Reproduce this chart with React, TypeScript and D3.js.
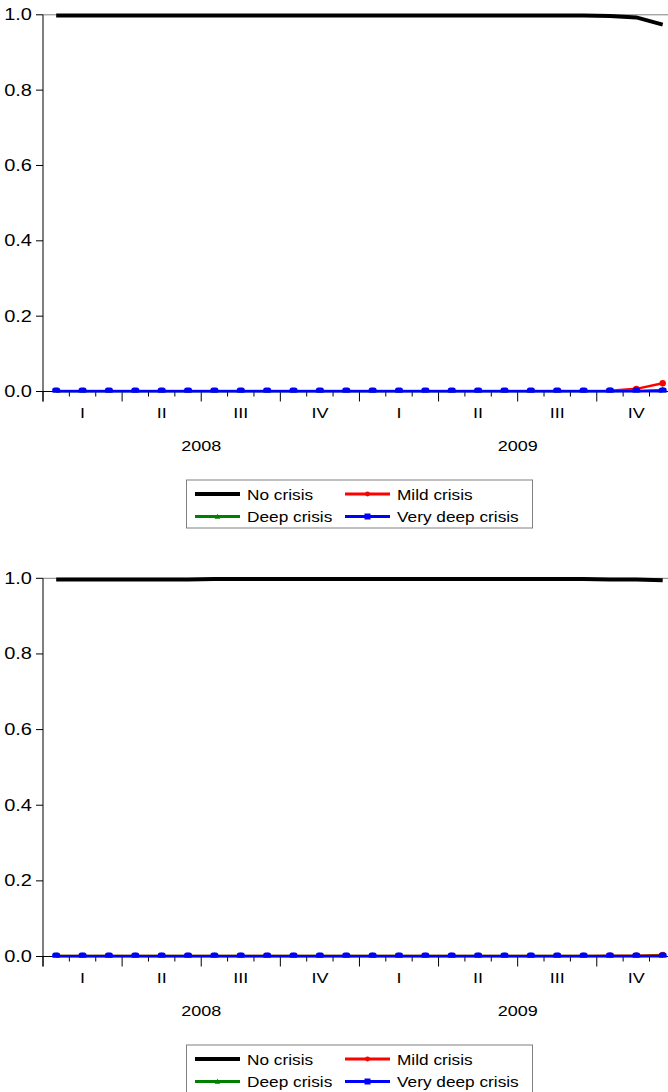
import React from "react";
import * as d3 from "d3";

const months = ["2008M01","2008M02","2008M03","2008M04","2008M05","2008M06","2008M07","2008M08","2008M09","2008M10","2008M11","2008M12","2009M01","2009M02","2009M03","2009M04","2009M05","2009M06","2009M07","2009M08","2009M09","2009M10","2009M11","2009M12"];
const quarterLabels = ["I","II","III","IV","I","II","III","IV"];
const yearLabels = ["2008","2009"];
const yTicks = [0, 0.2, 0.4, 0.6, 0.8, 1.0];
const seriesNames = ["No crisis","Mild crisis","Deep crisis","Very deep crisis"];

// Panel 1
const noCrisis1 = [0.998,0.998,0.998,0.998,0.998,0.998,0.998,0.998,0.998,0.998,0.998,0.998,0.998,0.998,0.998,0.998,0.998,0.998,0.998,0.998,0.998,0.997,0.993,0.974];
const mild1 = [0.001,0.001,0.001,0.001,0.001,0.001,0.001,0.001,0.001,0.001,0.001,0.001,0.001,0.001,0.001,0.001,0.001,0.001,0.001,0.001,0.001,0.002,0.007,0.022];
const deep1 = [0,0,0,0,0,0,0,0,0,0,0,0,0,0,0,0,0,0,0,0,0,0,0.001,0.004];
const veryDeep1 = [0,0,0,0,0,0,0,0,0,0,0,0,0,0,0,0,0,0,0,0,0,0,0,0];

// Panel 2
const noCrisis2 = [0.997,0.997,0.997,0.997,0.997,0.997,0.998,0.998,0.998,0.998,0.998,0.998,0.998,0.998,0.998,0.998,0.998,0.998,0.998,0.998,0.998,0.997,0.997,0.995];
const mild2 = [0.001,0.001,0.001,0.001,0.001,0.001,0.001,0.001,0.001,0.001,0.001,0.001,0.001,0.001,0.001,0.001,0.001,0.001,0.001,0.001,0.001,0.002,0.002,0.004];
const deep2 = [0.001,0.001,0.001,0.001,0.001,0.001,0.001,0.001,0.001,0.001,0.001,0.001,0.001,0.001,0.001,0.001,0.001,0.001,0.001,0.001,0.001,0.001,0.001,0.002];
const veryDeep2 = [0,0,0,0,0,0,0,0,0,0,0,0,0,0,0,0,0,0,0,0,0,0,0,0];

const colors = ["#000000", "#ff0000", "#008000", "#0000ff"];
const widths = [4, 2.5, 2.5, 3];
const markers = ["none", "circle", "triangle", "square"];

const FONT = "'Liberation Sans', Arial, sans-serif";

function Txt({ x, y, anchor = "start", size = 15, sx = 1.15, children }: any) {
  return (
    <text
      transform={`translate(${x},${y}) scale(${sx},1)`}
      textAnchor={anchor}
      fontFamily={FONT}
      fontSize={size}
      fill="#000"
    >
      {children}
    </text>
  );
}

function Marker({ type, x, y, color, size = 1, round = 2.5 }: any) {
  if (type === "circle") return <circle cx={x} cy={y} r={3.2 * size} fill={color} />;
  if (type === "square") return <rect x={x - 4 * size} y={y - 4 * size} width={8 * size} height={8 * size} rx={round * size} fill={color} />;
  if (type === "triangle") {
    const s = 3.8 * size;
    return <path d={`M${x},${y - s}L${x + s},${y + s * 0.8}L${x - s},${y + s * 0.8}Z`} fill={color} />;
  }
  return null;
}

function Panel({ top, zero, series, id }: any) {
  const x = d3.scaleLinear().domain([0, 24]).range([43, 43 + 24 * 26.37]);
  const y = d3.scaleLinear().domain([0, 1]).range([zero, top]);
  const line = d3.line<number>().x((_, i) => x(i + 0.5)).y((d) => y(d)).curve(d3.curveLinear);
  const axisY = y(0);
  const ticks = d3.range(0, 25);
  return (
    <g>
      <defs>
        <clipPath id={id}>
          <rect x={0} y={0} width={700} height={axisY + 1} />
        </clipPath>
      </defs>
      <line x1={43} x2={700} y1={y(1)} y2={y(1)} stroke="#808080" strokeWidth={1} />
      <line x1={43} x2={43} y1={y(1)} y2={axisY + 10} stroke="#000" strokeWidth={1} />
      {yTicks.map((t) => (
        <g key={t}>
          <line x1={36} x2={43} y1={y(t)} y2={y(t)} stroke="#000" strokeWidth={1} />
          <Txt x={32} y={y(t) + 5.5} anchor="end" size={16} sx={1.25}>{t.toFixed(1)}</Txt>
        </g>
      ))}
      <line x1={43} x2={700} y1={axisY} y2={axisY} stroke="#000" strokeWidth={1} />
      {ticks.map((m) => (
        <line key={m} x1={x(m)} x2={x(m)} y1={axisY} y2={axisY + (m % 3 === 0 ? 10 : 5)} stroke="#000" strokeWidth={1} />
      ))}
      {quarterLabels.map((q, i) => (
        <Txt key={i} x={x(i * 3 + 1.5)} y={axisY + 26.5} anchor="middle" size={15} sx={1.2}>{q}</Txt>
      ))}
      {yearLabels.map((yr, i) => (
        <Txt key={yr} x={x(i * 12 + 6)} y={axisY + 59.5} anchor="middle" size={15} sx={1.2}>{yr}</Txt>
      ))}
      <g clipPath={`url(#${id})`}>
        {series.map((s: number[], k: number) => (
          <g key={k}>
            <path d={line(s) || ""} fill="none" stroke={colors[k]} strokeWidth={widths[k]} />
            {s.map((v, i) => (
              <Marker key={i} type={markers[k]} x={x(i + 0.5)} y={y(v)} color={colors[k]} />
            ))}
          </g>
        ))}
      </g>
      <g transform={`translate(0,${axisY + 88.5})`}>
        <rect x={186.5} y={0} width={346} height={48} fill="#fff" stroke="#808080" strokeWidth={1} />
        {seriesNames.map((name, k) => {
          const col = k % 2;
          const row = Math.floor(k / 2);
          const lx = col === 0 ? 195 : 345;
          const ly = row === 0 ? 14 : 36.5;
          return (
            <g key={name}>
              <line x1={lx} x2={lx + 45} y1={ly} y2={ly} stroke={colors[k]} strokeWidth={k === 0 ? 4 : 3} />
              <Marker type={markers[k]} x={lx + 22.5} y={ly} color={colors[k]} size={0.75} round={0} />
              <Txt x={lx + 52} y={ly + 5.5} size={15} sx={1.15}>{name}</Txt>
            </g>
          );
        })}
      </g>
    </g>
  );
}

export default function App() {
  return (
    <svg width={668} height={1092} style={{ position: "absolute", left: 0, top: 0, background: "#fff" }}>
      <rect width={668} height={1092} fill="#fff" />
      <Panel id="c1" top={14.8} zero={391.5} series={[noCrisis1, mild1, deep1, veryDeep1]} />
      <Panel id="c2" top={578.3} zero={956.5} series={[noCrisis2, mild2, deep2, veryDeep2]} />
    </svg>
  );
}
